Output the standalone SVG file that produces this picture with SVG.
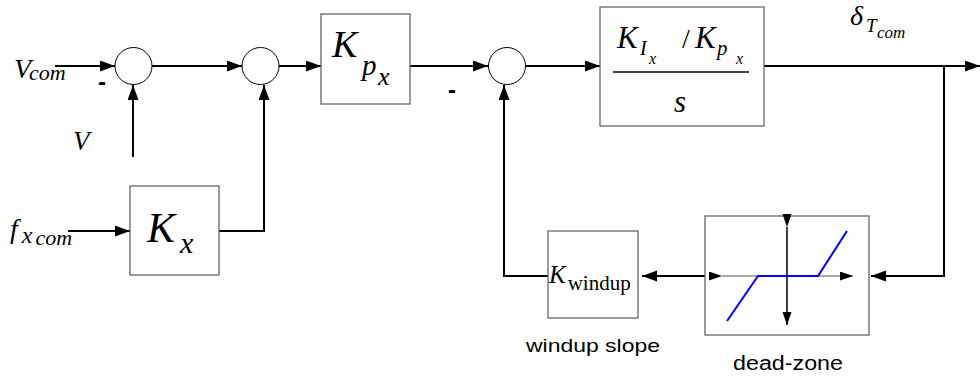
<svg xmlns="http://www.w3.org/2000/svg" width="980" height="379" viewBox="0 0 980 379">
<style>
.box{fill:#fff;stroke:#666;stroke-width:1.3}
.sum{fill:#fff;stroke:#000;stroke-width:1}
.wire{fill:none;stroke:#000;stroke-width:2}
.m{font-family:"Liberation Serif","Times New Roman",serif;font-style:italic;fill:#000}
.r{font-family:"Liberation Serif","Times New Roman",serif;font-style:normal;fill:#000}
.lbl{font-family:"Liberation Sans",Arial,sans-serif;fill:#000}
.minus{font-family:"Liberation Sans",Arial,sans-serif;font-weight:bold;fill:#000;font-size:24px}
</style>
<defs>
<marker id="arr" markerUnits="userSpaceOnUse" markerWidth="16" markerHeight="12" refX="15" refY="5.5" orient="auto">
<path d="M0,0 L15,5.5 L0,11 z" fill="#000"/>
</marker>
<marker id="sarr" markerUnits="userSpaceOnUse" markerWidth="14" markerHeight="10" refX="13" refY="4.5" orient="auto">
<path d="M0,0 L13,4.5 L0,9 z" fill="#000"/>
</marker>
</defs>

<g id="connectors">
<line class="wire" x1="55" y1="66" x2="115" y2="66" marker-end="url(#arr)"/>
<line class="wire" x1="133" y1="157" x2="133" y2="85" marker-end="url(#arr)"/>
<line class="wire" x1="152" y1="66" x2="242" y2="66" marker-end="url(#arr)"/>
<line class="wire" x1="279" y1="66" x2="321" y2="66" marker-end="url(#arr)"/>
<line class="wire" x1="68" y1="231" x2="130" y2="231" marker-end="url(#arr)"/>
<polyline class="wire" points="219,231 264,231 264,85" marker-end="url(#arr)"/>
<line class="wire" x1="410" y1="66" x2="488" y2="66" marker-end="url(#arr)"/>
<line class="wire" x1="526" y1="66" x2="600" y2="66" marker-end="url(#arr)"/>
<line class="wire" x1="764" y1="66" x2="980" y2="66" marker-end="url(#arr)"/>
<polyline class="wire" points="944,66 944,276 871,276" marker-end="url(#arr)"/>
<line class="wire" x1="705" y1="276" x2="642" y2="276" marker-end="url(#arr)"/>
<polyline class="wire" points="548,276 504,276 504,85" marker-end="url(#arr)"/>
</g>

<g id="in-vcom">
<text class="m" x="14" y="78" font-size="28">V<tspan font-size="22" dx="-2" dy="2">com</tspan></text>
<text class="minus" x="98" y="90">-</text>
</g>
<g id="in-v"><text class="m" x="73" y="150" font-size="27">V</text></g>
<g id="in-fx">
<text class="m" x="10" y="238" font-size="28">f<tspan font-size="24" dx="4" dy="5">x</tspan><tspan font-size="22" dx="3" dy="2">com</tspan></text>
</g>

<g id="sum1"><circle class="sum" cx="133.5" cy="66" r="18.5"/></g>
<g id="sum2"><circle class="sum" cx="260.5" cy="66" r="18.5"/></g>
<g id="sum3"><circle class="sum" cx="507" cy="66" r="18.5"/><text class="minus" x="448" y="98">-</text></g>

<g id="Kx">
<rect class="box" x="130" y="186" width="89" height="89"/>
<text class="m" x="147" y="242" font-size="42">K<tspan font-size="30" dx="5" dy="11">x</tspan></text>
</g>

<g id="Kpx">
<rect class="box" x="321" y="14" width="89" height="90"/>
<text class="m" font-size="38"><tspan x="332" y="57">K</tspan><tspan x="362" y="75" font-size="29">p</tspan><tspan x="378" y="85" font-size="26">x</tspan></text>
</g>

<g id="integrator">
<rect class="box" x="600" y="7" width="164" height="119"/>
<text class="m" font-size="31"><tspan x="617" y="48">K</tspan><tspan x="640" y="55" font-size="20">I</tspan><tspan x="649" y="64" font-size="16">x</tspan><tspan class="r" x="682" y="48" font-size="28">/</tspan><tspan x="695" y="48">K</tspan><tspan x="717" y="55" font-size="21">p</tspan><tspan x="736" y="64" font-size="16">x</tspan></text>
<line x1="613" y1="72" x2="749" y2="72" stroke="#000" stroke-width="1.5"/>
<text class="m" x="674" y="112" font-size="31">s</text>
</g>

<g id="out-label">
<text class="m" font-size="28"><tspan x="850" y="25">δ</tspan><tspan x="866" y="32" font-size="19">T</tspan><tspan x="877" y="38" font-size="17">com</tspan></text>
</g>

<g id="deadzone">
<rect class="box" x="705" y="216" width="164" height="119"/>
<line x1="722" y1="276" x2="853" y2="276" stroke="#555" stroke-width="1.2" marker-start="url(#sarr)" marker-end="url(#sarr)"/>
<line x1="787" y1="227" x2="787" y2="325" stroke="#000" stroke-width="1.5" marker-start="url(#sarr)" marker-end="url(#sarr)"/>
<polyline points="727,321 758,276 818,276 847,231" fill="none" stroke="#0000ff" stroke-width="2"/>
<text class="lbl" x="733" y="370" font-size="20" textLength="110" lengthAdjust="spacingAndGlyphs">dead-zone</text>
</g>

<g id="Kwindup">
<rect class="box" x="548" y="231" width="90" height="87"/>
<text class="m" x="549" y="283" font-size="25">K<tspan class="r" font-size="21" dx="2" dy="7">windup</tspan></text>
<text class="lbl" x="526" y="352" font-size="19" textLength="134" lengthAdjust="spacingAndGlyphs">windup slope</text>
</g>
</svg>
